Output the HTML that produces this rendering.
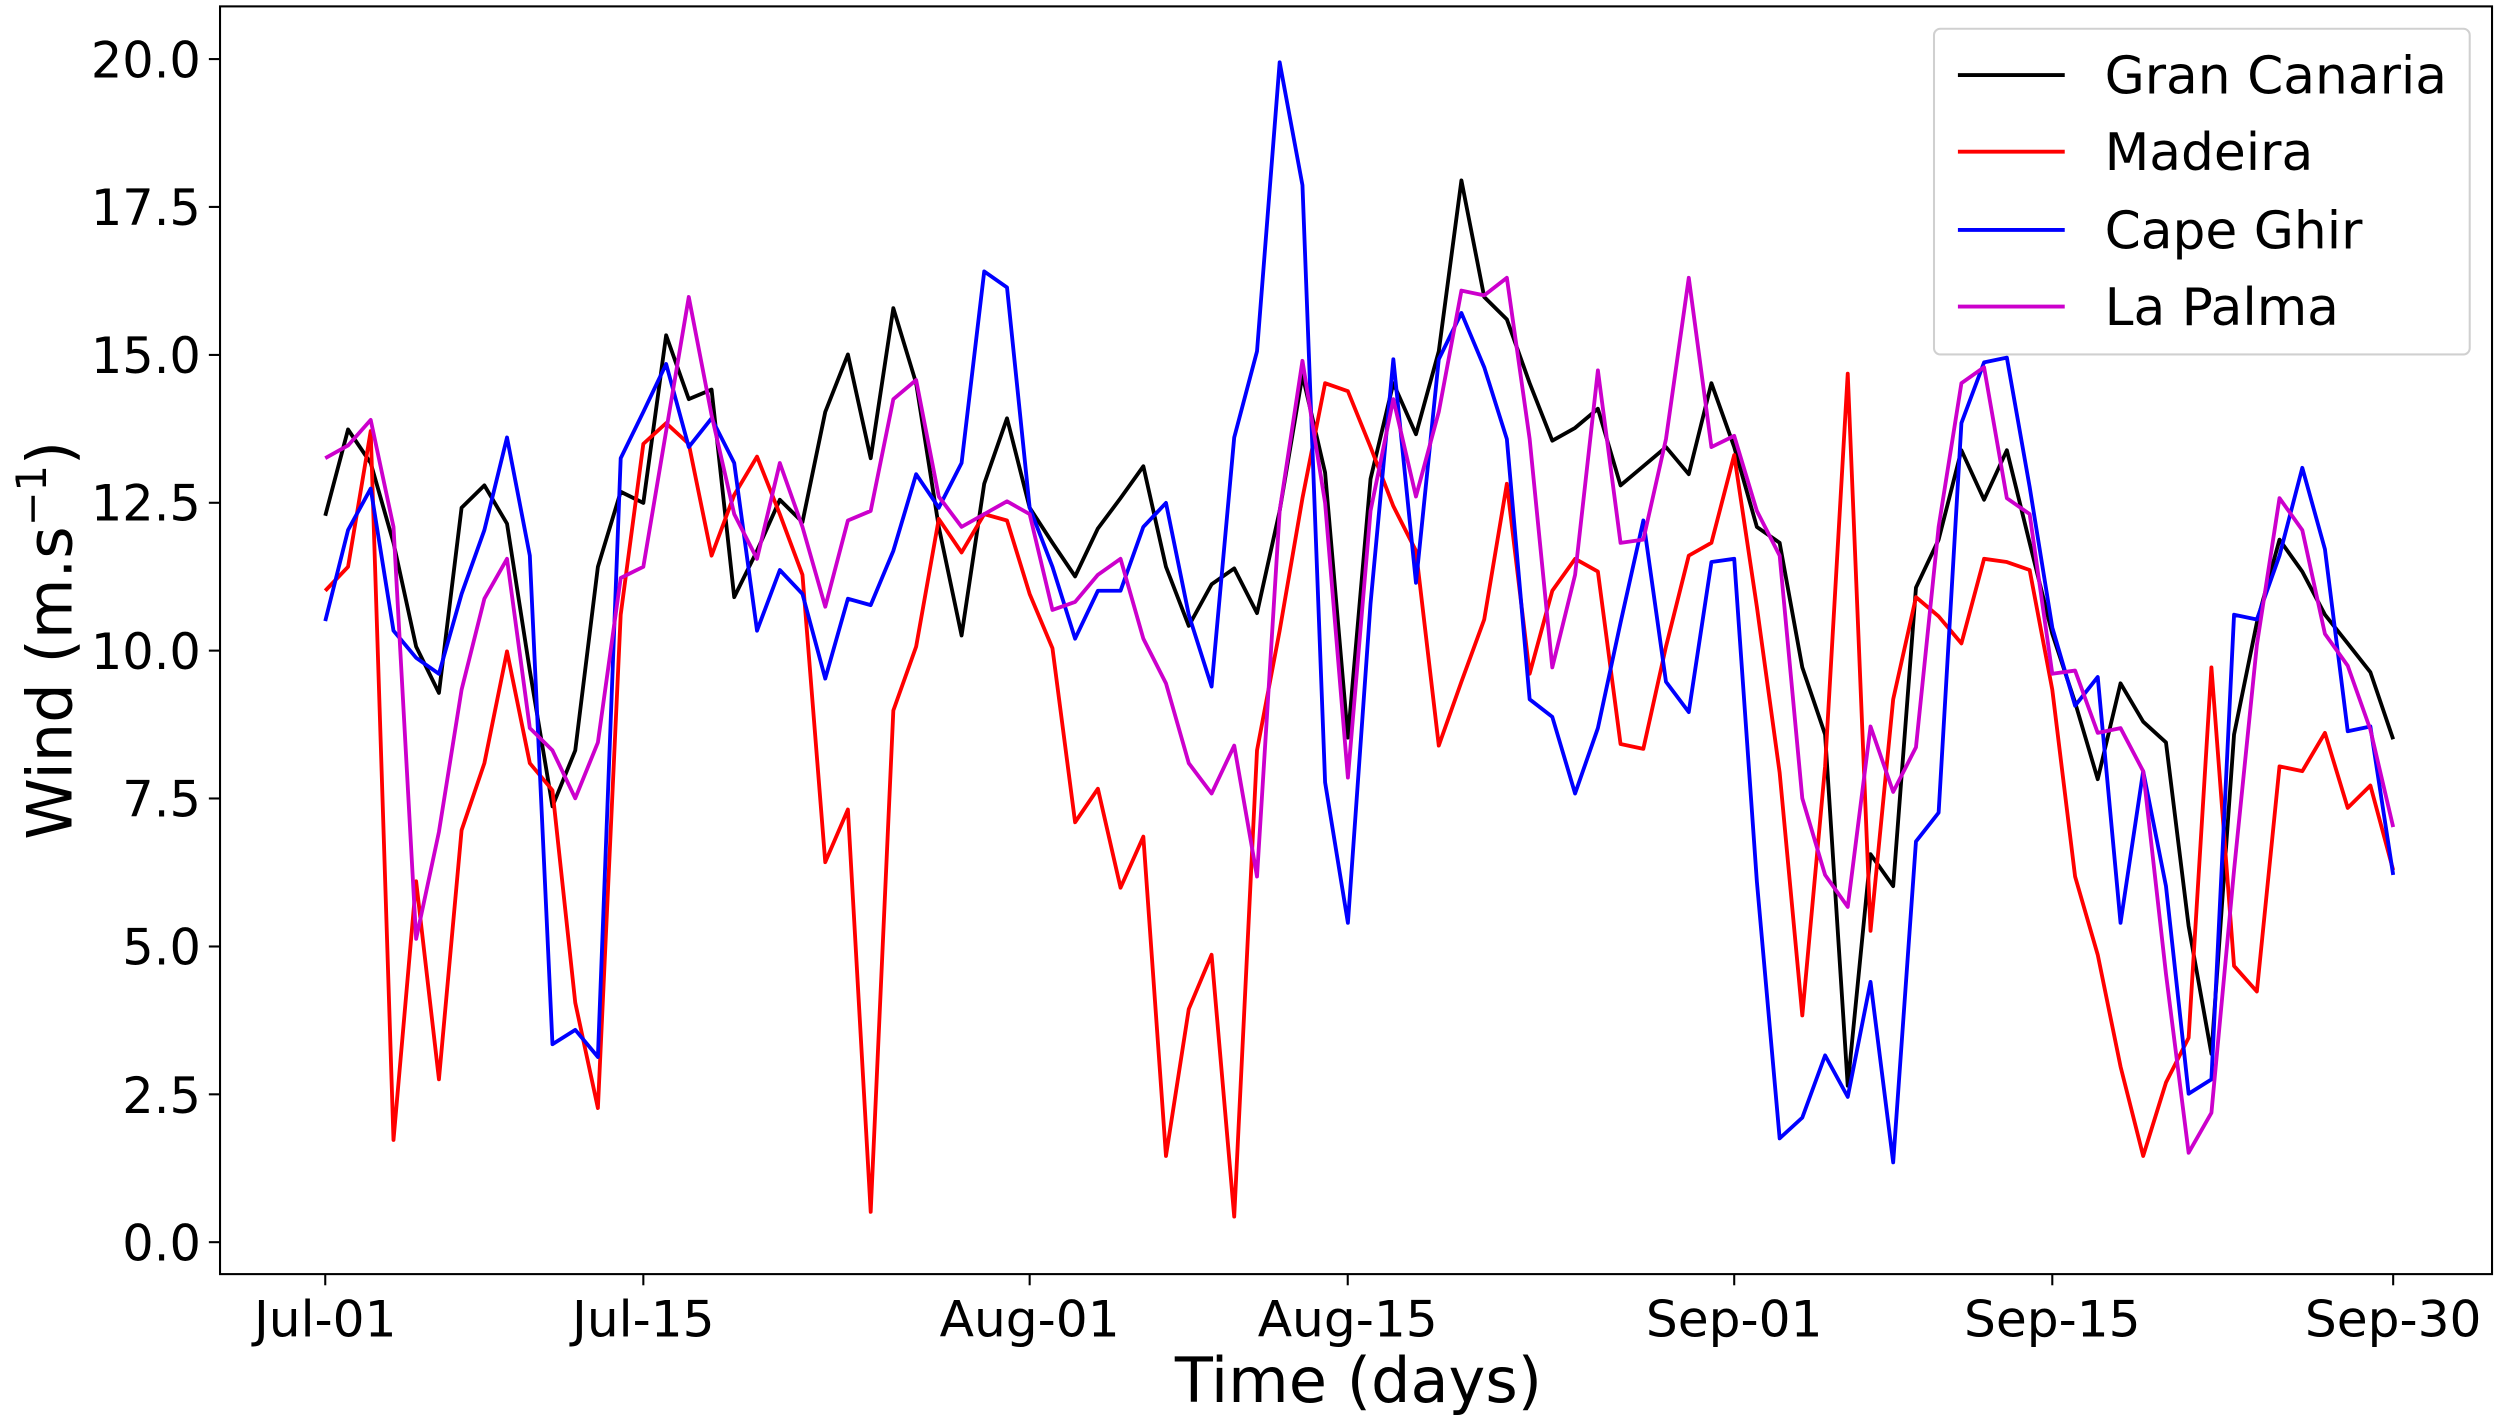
<!DOCTYPE html>
<html><head><meta charset="utf-8"><style>
html,body{margin:0;padding:0;background:#fff}
svg{display:block}
text{font-family:"DejaVu Sans","Liberation Sans",sans-serif;fill:#000}
</style></head><body>
<svg id="s" width="2500" height="1421" viewBox="0 0 1568 890" preserveAspectRatio="none" xmlns="http://www.w3.org/2000/svg">
<rect x="0" y="0" width="1568" height="890" fill="#fff"/>
<g id="series"></g>
<rect x="138" y="4" width="1425" height="794" fill="none" stroke="#000" stroke-width="1.3"/>
<g stroke="#000" stroke-width="1.3">
<line x1="138" x2="131" y1="778" y2="778"/><line x1="138" x2="131" y1="685.4" y2="685.4"/>
<line x1="138" x2="131" y1="592.8" y2="592.8"/><line x1="138" x2="131" y1="500.1" y2="500.1"/>
<line x1="138" x2="131" y1="407.5" y2="407.5"/><line x1="138" x2="131" y1="314.9" y2="314.9"/>
<line x1="138" x2="131" y1="222.3" y2="222.3"/><line x1="138" x2="131" y1="129.6" y2="129.6"/>
<line x1="138" x2="131" y1="37" y2="37"/>
<line x1="204" x2="204" y1="798" y2="805"/><line x1="403.5" x2="403.5" y1="798" y2="805"/>
<line x1="645.8" x2="645.8" y1="798" y2="805"/><line x1="845.3" x2="845.3" y1="798" y2="805"/>
<line x1="1087.7" x2="1087.7" y1="798" y2="805"/><line x1="1287.2" x2="1287.2" y1="798" y2="805"/>
<line x1="1501" x2="1501" y1="798" y2="805"/>
</g>
<g font-size="31" text-anchor="end">
<text x="126" y="789.5">0.0</text><text x="126" y="697">2.5</text><text x="126" y="604">5.0</text>
<text x="126" y="511.5">7.5</text><text x="126" y="419">10.0</text><text x="126" y="326">12.5</text>
<text x="126" y="233.5">15.0</text><text x="126" y="141">17.5</text><text x="126" y="48.5">20.0</text>
</g>
<g font-size="31.5" text-anchor="middle">
<text x="204" y="837">Jul-01</text><text x="403.5" y="837">Jul-15</text><text x="645.8" y="837">Aug-01</text>
<text x="845.3" y="837">Aug-15</text><text x="1087.7" y="837">Sep-01</text><text x="1287.2" y="837">Sep-15</text>
<text x="1501" y="837">Sep-30</text>
</g>
<text x="852" y="878" font-size="39" text-anchor="middle">Time (days)</text>
<text transform="translate(45,401) rotate(-90)" font-size="39" text-anchor="middle">Wind (m.s<tspan dy="-16" font-size="26">−1</tspan><tspan dy="16">)</tspan></text>
<rect x="1213" y="18" width="336" height="204" rx="4" fill="#fff" stroke="#ccc" stroke-width="1.3" opacity="0.9"/>
<g stroke-width="2.4">
<line x1="1228" x2="1295" y1="47" y2="47" stroke="#000"/>
<line x1="1228" x2="1295" y1="95" y2="95" stroke="#f00"/>
<line x1="1228" x2="1295" y1="144" y2="144" stroke="#00f"/>
<line x1="1228" x2="1295" y1="192" y2="192" stroke="#c0c"/>
</g>
<g font-size="32.5">
<text x="1320" y="58.5">Gran Canaria</text><text x="1320" y="106.5">Madeira</text>
<text x="1320" y="155.5">Cape Ghir</text><text x="1320" y="203.5">La Palma</text>
</g>
</svg>
<script>
var D={
"#000":[323,269,290,340,405,434,318,304,328,420,505,470,355,308,315,210,250,244,374,345,313,327,258,222,287,193,240,330,398,303,262,318,340,361,331,312,292,355,392,366,356,384,320,235,296,462,300,240,272,220,113,186,200,240,276,268,256,304,292,280,297,240,280,330,340,418,460,680,535,555,368,338,282,313,282,340,397,440,488,428,452,465,580,660,460,390,338,358,385,403,421,463],
"#f00":[370,355,270,714,552,676,520,478,408,478,495,628,694,385,278,265,278,348,310,286,322,360,540,507,759,445,405,325,346,322,326,372,406,515,494,556,524,724,632,598,762,470,395,312,240,245,280,317,345,467,427,388,303,422,370,350,358,466,469,405,348,340,285,380,484,636,480,234,583,438,374,386,403,350,352,357,432,549,598,668,724,678,650,418,605,621,480,483,459,506,492,545],
"#00f":[389,332,306,395,412,422,372,332,274,348,654,645,662,287,258,228,280,262,290,395,357,372,425,375,379,345,297,318,290,170,180,318,355,400,370,370,330,315,385,430,274,220,39,116,490,578,378,225,365,225,196,230,275,438,449,497,456,390,326,427,446,352,350,552,713,700,661,687,615,728,527,509,265,227,224,305,393,442,424,578,483,555,685,676,385,388,348,293,344,458,455,548],
"#c0c":[287,279,263,330,588,521,432,375,350,456,470,500,465,362,355,270,186,260,322,350,290,330,380,326,320,250,238,311,330,322,314,322,382,377,360,350,400,428,478,497,467,549,320,226,315,487,320,250,311,258,182,185,174,275,418,360,232,340,338,275,174,280,273,320,348,500,548,568,455,496,468,330,240,230,312,322,422,420,459,456,483,610,722,697,545,404,312,332,397,417,457,518]};
var g=document.getElementById("series"),ns="http://www.w3.org/2000/svg";
["#000","#f00","#00f","#c0c"].forEach(function(c){
var p=document.createElementNS(ns,"polyline");
p.setAttribute("points",D[c].map(function(y,i){return (204+14.2527*i).toFixed(1)+","+y}).join(" "));
p.setAttribute("fill","none");p.setAttribute("stroke",c);p.setAttribute("stroke-width","2.4");p.setAttribute("stroke-linejoin","round");
g.appendChild(p);});
</script>
</body></html>
